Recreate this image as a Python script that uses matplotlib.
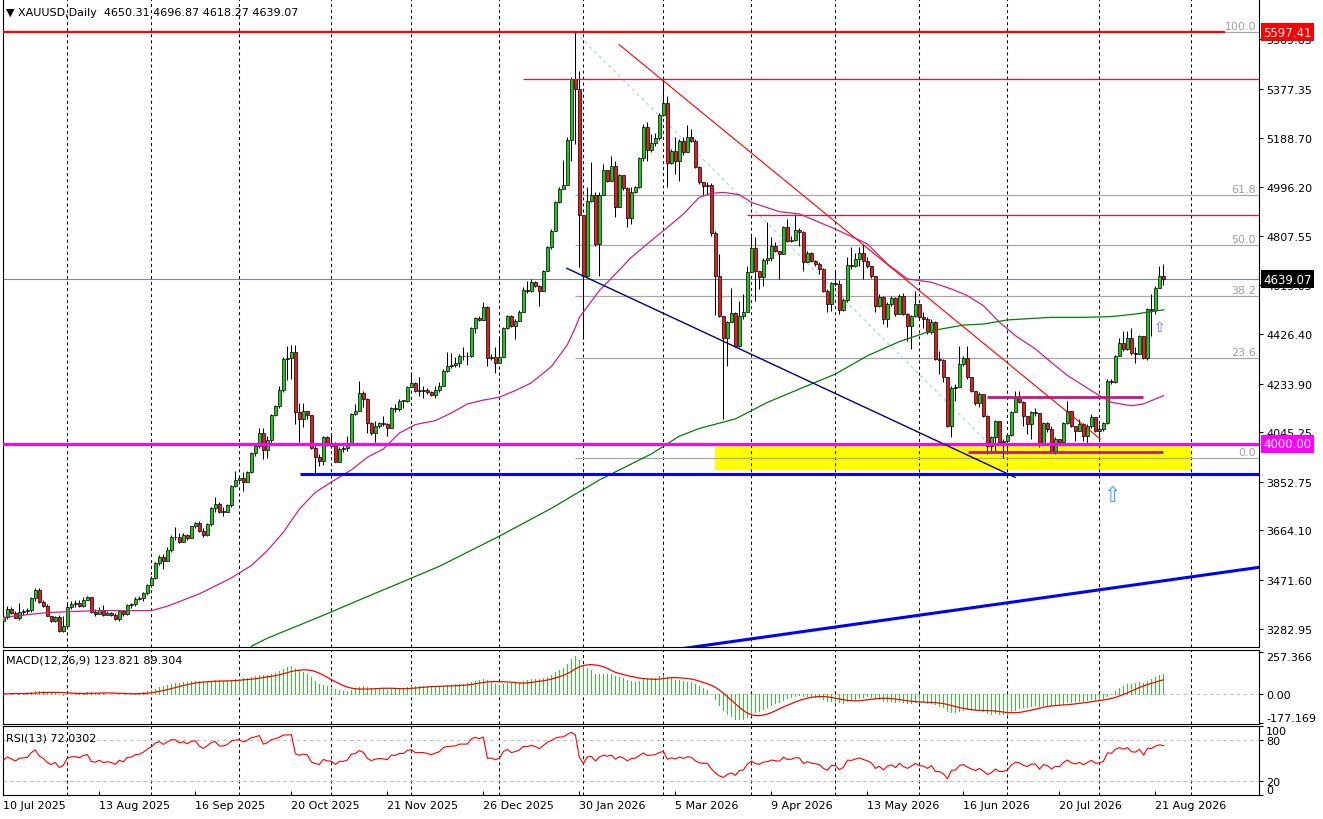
import numpy as np
import pandas as pd
import matplotlib
matplotlib.use("Agg")
import matplotlib.pyplot as plt
from matplotlib.patches import Rectangle

plt.rcParams['font.family'] = ['DejaVu Sans']

# ---------------- data ----------------
first_open = 3314.0
closes = [
    3327.1, 3359.4, 3343.9, 3325.8, 3349.1, 3353.0, 3356.8, 3400.8, 3433.1, 3387.9,
    3369.8, 3333.6, 3312.9, 3329.7, 3275.4, 3294.8, 3365.9, 3378.8, 3382.7, 3372.4,
    3395.6, 3406.0, 3346.5, 3340.0, 3356.8, 3336.2, 3342.6, 3337.5, 3320.6, 3351.7,
    3338.7, 3374.9, 3377.5, 3398.2, 3403.4, 3421.5, 3452.5, 3479.7, 3537.9, 3562.5,
    3546.9, 3589.6, 3637.5, 3638.8, 3620.7, 3646.5, 3633.6, 3680.2, 3693.1, 3662.1,
    3646.5, 3687.9, 3750.0, 3766.8, 3737.1, 3737.1, 3762.9, 3835.4, 3861.2, 3866.4,
    3853.5, 3892.3, 3964.7, 3990.5, 4042.3, 3977.6, 4016.4, 4112.1, 4145.8, 4210.4,
    4329.4, 4333.3, 4357.9, 4125.1, 4096.6, 4127.6, 4112.1, 3985.4, 3950.5, 3932.4,
    4025.5, 3999.6, 3990.5, 3931.1, 3980.2, 3982.8, 4003.5, 4116.0, 4128.9, 4197.5,
    4174.2, 4081.1, 4043.6, 4068.2, 4079.8, 4075.9, 4063.0, 4139.3, 4135.4, 4167.7,
    4167.7, 4219.5, 4236.3, 4206.5, 4206.5, 4207.8, 4200.1, 4189.7, 4209.1, 4225.9,
    4284.2, 4303.6, 4307.4, 4312.6, 4341.1, 4341.1, 4342.4, 4448.4, 4488.5, 4480.8,
    4529.9, 4332.0, 4335.9, 4312.6, 4335.9, 4449.7, 4496.3, 4458.8, 4478.2, 4511.8,
    4597.2, 4594.6, 4626.9, 4614.0, 4594.6, 4669.6, 4762.7, 4827.4, 4937.3, 4989.0,
    5005.8, 5179.1, 5415.8, 5377.0, 4888.2, 4652.7, 4941.2, 4965.8, 4775.6, 4965.8,
    5062.7, 5021.4, 5079.6, 4920.5, 5043.3, 4991.6, 4875.2, 4976.1, 4995.5, 5108.0,
    5228.3, 5140.3, 5166.2, 5185.6, 5277.4, 5322.7, 5088.6, 5137.7, 5099.0, 5176.5,
    5131.3, 5189.5, 5176.5, 5075.7, 5014.9, 5002.0, 5003.2, 4818.0, 4652.7, 4497.5,
    4409.6, 4474.3, 4507.9, 4381.2, 4497.5, 4510.5, 4665.7, 4758.8, 4672.1, 4648.9,
    4713.5, 4721.3, 4766.6, 4749.7, 4736.8, 4840.3, 4788.5, 4792.4, 4831.2, 4823.5,
    4707.1, 4740.7, 4710.9, 4698.0, 4678.6, 4594.5, 4542.8, 4623.0, 4620.4, 4520.8,
    4558.3, 4694.1, 4689.0, 4717.4, 4740.7, 4710.9, 4689.0, 4650.2, 4536.3, 4568.7,
    4484.6, 4542.8, 4564.8, 4504.0, 4575.1, 4504.0, 4458.7, 4495.0, 4541.5, 4491.1,
    4484.6, 4432.9, 4474.3, 4329.4, 4326.8, 4258.3, 4070.8, 4215.6, 4222.1, 4310.0,
    4332.0, 4258.3, 4206.5, 4157.4, 4193.6, 4109.6, 3993.2, 4025.5, 4087.6, 4006.1,
    4010.0, 4034.5, 4122.5, 4178.1, 4163.9, 4107.0, 4077.2, 4122.5, 4119.9, 4003.5,
    4081.1, 4057.8, 3973.8, 4019.0, 4008.7, 4081.1, 4128.9, 4070.8, 4051.3, 4077.2,
    4029.4, 4068.2, 4103.1, 4051.3, 4057.8, 4081.1, 4245.3, 4238.9, 4339.8, 4390.2,
    4368.2, 4409.6, 4352.7, 4348.8, 4417.4, 4332.0, 4523.4, 4520.8, 4604.9, 4650.1,
    4639.07]
highs = [
    3336.2, 3372.4, 3365.9, 3353.0, 3382.7, 3359.4, 3362.0, 3404.7, 3439.6, 3439.6,
    3393.0, 3377.5, 3331.0, 3333.6, 3336.2, 3331.0, 3382.7, 3391.7, 3395.6, 3395.6,
    3404.7, 3411.2, 3400.8, 3359.4, 3365.9, 3374.9, 3353.0, 3346.5, 3343.9, 3356.8,
    3353.0, 3380.1, 3382.7, 3404.7, 3411.2, 3426.7, 3456.4, 3486.2, 3543.1, 3568.9,
    3572.8, 3598.7, 3646.5, 3676.3, 3654.3, 3654.3, 3651.7, 3682.7, 3698.3, 3702.2,
    3675.0, 3693.1, 3753.9, 3792.7, 3773.3, 3753.9, 3766.8, 3840.5, 3896.1, 3876.7,
    3892.3, 3896.1, 3969.9, 3995.7, 4060.4, 4060.4, 4031.9, 4116.0, 4150.9, 4223.4,
    4335.9, 4381.1, 4383.7, 4383.7, 4158.7, 4158.7, 4128.9, 4112.1, 4003.5, 3960.8,
    4031.9, 4031.9, 4034.5, 4008.7, 3986.7, 3990.5, 4031.9, 4119.9, 4154.8, 4245.3,
    4206.5, 4176.8, 4086.3, 4090.2, 4083.7, 4106.9, 4079.8, 4141.9, 4154.8, 4174.2,
    4171.6, 4223.4, 4277.7, 4241.5, 4258.3, 4225.9, 4215.6, 4206.5, 4225.9, 4241.5,
    4290.6, 4355.3, 4351.4, 4338.5, 4348.8, 4374.7, 4355.3, 4454.9, 4493.7, 4497.6,
    4549.3, 4536.4, 4348.8, 4374.7, 4413.5, 4454.9, 4501.4, 4501.4, 4484.6, 4519.6,
    4607.5, 4633.4, 4639.8, 4633.4, 4617.9, 4674.8, 4769.2, 4833.8, 4943.8, 4995.5,
    5100.0, 5189.5, 5422.3, 5597.41, 5448.1, 4837.7, 4995.5, 5092.5, 4976.1, 4976.1,
    5086.0, 5060.2, 5118.3, 5099.0, 5047.2, 5036.9, 4995.5, 4998.1, 5001.9, 5114.5,
    5241.2, 5247.7, 5202.4, 5205.0, 5282.6, 5415.8, 5351.1, 5144.2, 5192.1, 5183.0,
    5192.1, 5238.6, 5221.8, 5183.0, 5079.6, 5011.0, 5014.9, 5012.0, 4825.0, 4736.8,
    4487.2, 4478.1, 4603.6, 4513.1, 4555.7, 4581.6, 4689.0, 4807.9, 4801.5, 4672.1,
    4720.0, 4859.7, 4801.5, 4782.1, 4743.3, 4846.7, 4872.6, 4807.9, 4892.0, 4836.4,
    4827.3, 4749.7, 4745.9, 4714.8, 4704.5, 4683.8, 4601.0, 4629.5, 4665.7, 4635.9,
    4564.8, 4723.9, 4762.7, 4740.7, 4762.7, 4775.6, 4723.9, 4691.5, 4652.7, 4581.6,
    4572.6, 4549.3, 4572.6, 4568.7, 4581.6, 4585.5, 4507.9, 4500.1, 4594.6, 4542.8,
    4510.5, 4491.1, 4484.6, 4476.8, 4361.8, 4329.4, 4258.3, 4226.0, 4232.4, 4378.5,
    4342.4, 4381.1, 4258.3, 4206.5, 4200.1, 4193.6, 4113.4, 4032.0, 4094.0, 4086.3,
    4019.0, 4038.4, 4126.4, 4206.5, 4206.5, 4167.7, 4103.1, 4128.9, 4138.0, 4090.2,
    4086.3, 4086.3, 4068.2, 4025.5, 4019.0, 4086.3, 4165.2, 4128.9, 4057.8, 4096.6,
    4081.1, 4077.2, 4116.0, 4103.1, 4077.2, 4086.3, 4251.8, 4251.8, 4344.9, 4409.6,
    4439.3, 4439.3, 4448.4, 4374.7, 4422.5, 4419.9, 4526.0, 4581.6, 4611.4, 4688.9,
    4696.87]
lows = [
    3310.3, 3320.6, 3340.0, 3323.2, 3318.0, 3336.2, 3340.0, 3349.1, 3391.7, 3382.7,
    3365.9, 3331.0, 3307.7, 3310.3, 3268.9, 3271.5, 3288.3, 3359.4, 3367.2, 3365.9,
    3368.5, 3398.2, 3342.6, 3333.6, 3343.9, 3331.0, 3336.2, 3331.0, 3318.0, 3314.2,
    3333.6, 3336.2, 3364.6, 3369.8, 3393.0, 3391.7, 3413.7, 3443.5, 3475.8, 3530.1,
    3514.6, 3546.9, 3579.3, 3628.4, 3615.5, 3623.3, 3628.4, 3641.4, 3673.7, 3656.9,
    3637.5, 3644.0, 3682.7, 3737.1, 3731.9, 3721.6, 3746.1, 3755.2, 3831.5, 3850.9,
    3818.5, 3850.9, 3887.1, 3954.3, 3982.8, 3941.4, 3944.0, 3999.6, 4109.5, 4138.0,
    4202.7, 4249.2, 4251.8, 4077.2, 4006.1, 4064.3, 4096.6, 3980.2, 3887.1, 3915.6,
    3918.1, 3993.1, 3982.8, 3928.5, 3928.5, 3969.9, 3973.7, 3995.7, 4112.1, 4127.6,
    4141.9, 4042.3, 4034.5, 4006.1, 4063.0, 4070.7, 4032.0, 4070.7, 4125.1, 4128.9,
    4138.0, 4161.3, 4219.5, 4202.7, 4187.1, 4176.8, 4193.6, 4184.6, 4176.8, 4202.7,
    4223.4, 4277.7, 4294.5, 4299.7, 4297.1, 4325.6, 4307.4, 4336.0, 4429.0, 4475.6,
    4484.6, 4303.6, 4325.6, 4273.8, 4320.4, 4348.8, 4445.8, 4452.3, 4407.0, 4475.6,
    4514.4, 4584.2, 4588.1, 4607.5, 4536.4, 4623.0, 4669.6, 4756.3, 4824.8, 4933.4,
    4995.0, 5011.0, 5099.0, 5163.6, 4685.1, 4407.0, 4659.2, 4937.3, 4769.2, 4652.7,
    4982.6, 5014.9, 5018.8, 4879.1, 4920.5, 4985.1, 4840.3, 4853.2, 4972.2, 4992.9,
    5096.4, 5096.4, 5131.3, 5157.1, 5179.1, 5273.5, 4995.5, 5086.0, 5047.2, 5021.4,
    5122.2, 5144.2, 5170.1, 5070.5, 5008.4, 4967.0, 4969.6, 4805.0, 4500.1, 4491.1,
    4096.6, 4303.6, 4471.7, 4374.7, 4374.7, 4484.6, 4510.5, 4665.7, 4555.7, 4601.0,
    4613.9, 4698.0, 4710.9, 4745.9, 4639.8, 4736.8, 4782.1, 4782.1, 4788.5, 4769.1,
    4672.1, 4714.8, 4707.1, 4689.0, 4659.2, 4590.7, 4510.5, 4516.9, 4614.0, 4504.0,
    4516.9, 4551.9, 4678.6, 4685.1, 4689.0, 4639.8, 4681.2, 4642.4, 4510.5, 4529.9,
    4465.2, 4452.3, 4536.3, 4497.5, 4536.3, 4500.1, 4400.6, 4368.2, 4491.1, 4484.6,
    4448.4, 4426.4, 4426.4, 4326.8, 4271.2, 4238.9, 4064.3, 4025.5, 4167.7, 4267.3,
    4303.6, 4251.8, 4202.7, 4151.0, 4141.9, 4103.1, 3960.8, 3967.3, 3973.8, 4003.5,
    3944.0, 3960.8, 4032.0, 4122.5, 4158.7, 4070.8, 4038.4, 4019.0, 4109.6, 3986.7,
    4000.0, 4047.5, 3969.9, 3960.8, 3999.6, 4006.1, 4077.2, 4064.3, 4012.6, 4073.3,
    4012.6, 3999.6, 4060.4, 4044.9, 4012.6, 4051.3, 4077.2, 4232.4, 4236.3, 4339.8,
    4361.8, 4365.6, 4344.9, 4313.9, 4370.8, 4329.4, 4326.8, 4417.4, 4504.0, 4607.5,
    4618.27]

# moving averages (bar index, price)
ma_fast_bars = [0, 10, 16, 24, 37, 41, 49, 57, 62, 66, 70, 74, 78, 82, 87, 91, 95, 99, 103, 108,
                112, 116, 120, 124, 128, 132, 137, 141, 143, 144, 149, 153, 157, 162, 166, 170,
                174, 177, 180, 184, 187, 194, 199, 207, 216, 221, 226, 232, 237, 241, 245, 249,
                253, 258, 262, 266, 270, 274, 277, 282, 285, 287, 290]
ma_fast_vals = [3327, 3344, 3349, 3353, 3353, 3370, 3418, 3480, 3528, 3586, 3657, 3747, 3812, 3852,
                3899, 3948, 3980, 4042, 4075, 4090, 4120, 4155, 4170, 4181, 4207, 4237, 4300, 4385,
                4452, 4491, 4595, 4659, 4724, 4789, 4840, 4892, 4957, 4972, 4976, 4967, 4937, 4901,
                4892, 4840, 4776, 4698, 4640, 4627, 4601, 4575, 4536, 4472, 4420, 4368, 4316, 4265,
                4226, 4187, 4161, 4148, 4155, 4168, 4187]
ma_slow_bars = [62, 66, 80, 90, 100, 109, 124, 137, 149, 162, 169, 174, 183, 191, 199, 208, 216,
                224, 232, 240, 245, 251, 262, 270, 277, 283, 290]
ma_slow_vals = [3215, 3246, 3335, 3401, 3466, 3525, 3642, 3750, 3860, 3961, 4030, 4060, 4097, 4161,
                4213, 4271, 4342, 4397, 4439, 4461, 4465, 4481, 4491, 4491, 4494, 4504, 4520]

price_ticks = [5569.85, 5377.35, 5188.70, 4996.20, 4807.55, 4615.05, 4426.40,
               4233.90, 4045.25, 3852.75, 3664.10, 3471.60, 3282.95]
date_bars = [0, 24, 48, 72, 96, 120, 144, 168, 192, 216, 240, 264, 288]
date_labels = ["10 Jul 2025", "13 Aug 2025", "16 Sep 2025", "20 Oct 2025", "21 Nov 2025",
               "26 Dec 2025", "30 Jan 2026", "5 Mar 2026", "9 Apr 2026", "13 May 2026",
               "16 Jun 2026", "20 Jul 2026", "21 Aug 2026"]
month_grid_bars = [16, 37, 59, 82, 102, 124, 145, 165, 187, 208, 229, 251, 274, 297]

title = "\u25BC XAUUSD,Daily  4650.31 4696.87 4618.27 4639.07"
macd_title = "MACD(12,26,9) 123.821 89.304"
rsi_title = "RSI(13) 72.0302"

# drawn objects (bar index, price)
fib_low, fib_high = 3944.0, 5597.41
fib_start_bar, fib_low_bar = 143, 250
fib_levels = [0.0, 23.6, 38.2, 50.0, 61.8, 100.0]
top_line_price, top_line_end = 5597.41, 305.5
res_lines = [(130, 5414.6), (186, 4887.5)]
support_4000 = 4000.00
blue_support, blue_support_start = 3883.8, 74.1
trend_red = [(153.9, 5549.7), (274.2, 4019.0)]
trend_navy = [(140.85, 4681.3), (252.9, 3870.4)]
trend_blue = [(160.0, 3184.5), (314.0, 3521.3)]
range_lines = [(246.0, 285.0, 4183.1), (241.1, 290.0, 3969.7)]
zone = (177.9, 296.9, 3898.7, 4000.0)
arrows = [(277.1, 3801.7, 15, '#3d9bff'), (289.0, 4452.0, 10, '#6a6aff')]

# ---------------- derived series ----------------
c = np.array(closes)
h = np.array(highs)
l = np.array(lows)
o = np.r_[first_open, c[:-1]]
o[-1] = 4650.31
n = len(c)
bars = np.arange(n)
h = np.maximum(h, np.maximum(o, c))
l = np.minimum(l, np.minimum(o, c))


def ema(arr, span):
    a = 2.0 / (span + 1)
    out = np.empty_like(arr)
    out[0] = arr[0]
    for i in range(1, len(arr)):
        out[i] = a * arr[i] + (1 - a) * out[i - 1]
    return out


macd = ema(c, 12) - ema(c, 26)
signal = pd.Series(macd).rolling(9, min_periods=1).mean().values

d = np.diff(c)
g = np.where(d > 0, d, 0.0)
ls_ = np.where(d < 0, -d, 0.0)
ag, al = g[:13].mean(), ls_[:13].mean()
rsi = [100 * ag / (ag + al)]
for i in range(len(d)):
    ag = (ag * 12 + g[i]) / 13
    al = (al * 12 + ls_[i]) / 13
    rsi.append(100 * ag / (ag + al))
rsi = np.array(rsi)

# ---------------- figure layout ----------------
W, H = 1323, 820
fig = plt.figure(figsize=(W / 100, H / 100), dpi=100)


def rect(x0, y0, x1, y1):
    return [x0 / W, 1 - y1 / H, (x1 - x0) / W, (y1 - y0) / H]


ax = fig.add_axes(rect(2.7, 0, 1259.3, 648))
axm = fig.add_axes(rect(2.7, 650.7, 1259.3, 724.7))
axr = fig.add_axes(rect(2.7, 727.3, 1259.3, 796))

XL = (-0.15, 313.95)
for a in (ax, axm, axr):
    a.set_xlim(*XL)
    for s in a.spines.values():
        s.set_linewidth(0.8)
        s.set_color('black')
    for b in month_grid_bars:
        a.axvline(b, color='black', lw=0.75, ls=(0, (2.9, 2.9)), zorder=1)
ax.spines['top'].set_visible(False)

ax.set_ylim(3211.9, 5726.2)
axm.set_ylim(-183.8, 274.2)
axr.set_ylim(0, 100)

for a in (ax, axm, axr):
    a.yaxis.tick_right()
    a.tick_params(axis='y', direction='out', length=3, width=0.8, labelsize=8, pad=2,
                  left=False, right=True)
ax.tick_params(axis='x', bottom=False, labelbottom=False)
axm.tick_params(axis='x', bottom=False, labelbottom=False)
ax.set_yticks(price_ticks)
ax.set_yticklabels([f"{v:.2f}" for v in price_ticks])

# ---------------- main panel ----------------
ax.add_patch(Rectangle((zone[0], zone[2]), zone[1] - zone[0], zone[3] - zone[2],
                       facecolor='#FFFF00', edgecolor='none', zorder=0.6))

# fibonacci
for lvl in fib_levels:
    p = fib_low + (fib_high - fib_low) * lvl / 100.0
    ax.hlines(p, fib_start_bar, XL[1], color='#A8A8A8', lw=0.9, zorder=2)
    ax.annotate(f"{lvl:.1f}", xy=(1, p), xycoords=('axes fraction', 'data'),
                xytext=(-3, 1), textcoords='offset pixels', ha='right', va='bottom',
                color='#A0A0A0', fontsize=8, annotation_clip=False, zorder=2)
ax.plot([fib_start_bar, fib_low_bar], [fib_high, fib_low], color='#A6D3E6', lw=0.8,
        ls=(0, (3, 3)), zorder=2)

# candles
up = c >= o
ax.vlines(bars, l, h, color='black', lw=0.75, zorder=3)
body_lo = np.minimum(o, c)
body_h = np.maximum(np.abs(c - o), 1.0)
ax.bar(bars, body_h, bottom=body_lo, width=0.62,
       color=np.where(up, '#22c322', '#e51c1c'), edgecolor='black', linewidth=0.5, zorder=4)

# moving averages
ax.plot(ma_fast_bars, ma_fast_vals, color='#cc2288', lw=0.9, zorder=5)
ax.plot(ma_slow_bars, ma_slow_vals, color='#008000', lw=0.9, zorder=5)

# horizontal objects
ax.hlines(top_line_price, XL[0], top_line_end, color='#FF0000', lw=1.6, zorder=6)
for start, p in res_lines:
    ax.hlines(p, start, XL[1], color='#EE1030', lw=0.9, zorder=6)
ax.axhline(support_4000, color='#FF00FF', lw=2.2, zorder=6)
ax.hlines(blue_support, blue_support_start, XL[1], color='#0000FF', lw=2.2, zorder=6)
for x0, x1, p in range_lines:
    ax.hlines(p, x0, x1, color='#C71585', lw=2.0, zorder=6)
ax.axhline(c[-1], color='#778899', lw=0.8, zorder=2.5)

# trend lines
for pts, col, lw in ((trend_red, '#FF0000', 0.8), (trend_navy, '#000080', 1.0),
                     (trend_blue, '#0000FF', 2.2)):
    ax.plot([pts[0][0], pts[1][0]], [pts[0][1], pts[1][1]], color=col, lw=lw, zorder=6)

# arrows
for bx, py, fs, col in arrows:
    ax.text(bx, py, "\u21E7", fontsize=fs, color=col, ha='center', va='center', zorder=7)

# price boxes on the axis
for txt, p, fc in (("5597.41", 5597.41, '#FF0000'), ("4639.07", 4639.07, '#000000'),
                   ("4000.00", 4000.00, '#FF00FF')):
    ax.annotate(txt, xy=(1, p), xycoords=('axes fraction', 'data'), xytext=(4, 0),
                textcoords='offset pixels', ha='left', va='center', fontsize=8.5,
                color='white', annotation_clip=False, zorder=10,
                bbox=dict(boxstyle='square,pad=0.22', fc=fc, ec='none'))

fig.text(6 / W, 1 - 13 / H, title, fontsize=8, va='center', ha='left')

# ---------------- MACD ----------------
axm.vlines(bars, 0, macd, color='#2fc82f', lw=0.72, zorder=3, antialiased=False)
axm.plot(bars, signal, color='#FF0000', lw=0.9, zorder=4)
axm.axhline(0, color='#C0C0C0', lw=0.8, ls=(0, (3, 3)), zorder=2)
axm.set_yticks([257.366, 0.0, -177.169])
axm.set_yticklabels(["257.366", "0.00", "-177.169"])
labs = axm.get_yticklabels()
labs[0].set_verticalalignment('top')
labs[2].set_verticalalignment('bottom')
axm.text(0.003, 0.87, macd_title, transform=axm.transAxes,
         fontsize=8, va='center', ha='left')

# ---------------- RSI ----------------
axr.plot(bars, rsi, color='#FF0000', lw=0.8, zorder=4)
for lv in (80, 20):
    axr.axhline(lv, color='#C0C0C0', lw=0.8, ls=(0, (3, 3)), zorder=2)
axr.set_yticks([100, 80, 20, 0])
axr.set_yticklabels(["100", "80", "20", "0"])
rl = axr.get_yticklabels()
rl[0].set_verticalalignment('top')
rl[3].set_verticalalignment('bottom')
axr.text(0.003, 0.84, rsi_title, transform=axr.transAxes, fontsize=8, va='center', ha='left')

axr.set_xticks(date_bars)
axr.set_xticklabels(date_labels, ha='left', fontsize=8)
axr.tick_params(axis='x', direction='in', length=3, width=0.8, pad=3.5)

fig.savefig("out.png", dpi=100, facecolor='white')
